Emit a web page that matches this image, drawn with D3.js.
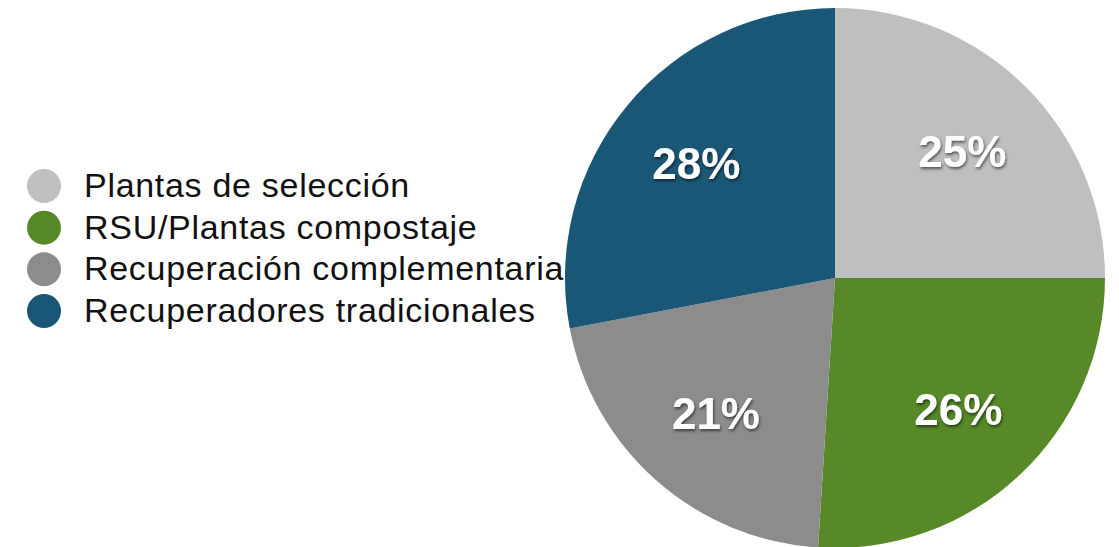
<!DOCTYPE html>
<html>
<head>
<meta charset="utf-8">
<script src="https://cdn.jsdelivr.net/npm/d3@7"></script>
<style>
  body { margin: 0; background: #ffffff; }
  svg { display: block; }
</style>
</head>
<body>
<svg id="pie"></svg>
<script>
// categories and values
var categories = ["Plantas de selección", "RSU/Plantas compostaje",
                  "Recuperación complementaria", "Recuperadores tradicionales"];
var values = [25, 26, 21, 28];
var colors = ["#bfbfbf", "#578928", "#8c8c8c", "#1a5776"];
var labels = ["25%", "26%", "21%", "28%"];

var screen = {width: 1119, height: 547};
var center = {x: 835, y: 278};
var radius = 270;

var svg = d3.select("#pie")
    .attr("width", screen.width)
    .attr("height", screen.height);

// shadow under the white labels
var filter = svg.append("defs").append("filter")
    .attr("id", "shadow")
    .attr("x", "-20%").attr("y", "-20%")
    .attr("width", "140%").attr("height", "140%");
filter.append("feDropShadow")
    .attr("dx", 1)
    .attr("dy", 2)
    .attr("stdDeviation", 1.5)
    .attr("flood-color", "#000")
    .attr("flood-opacity", 0.55);

var slices = categories.map(function(c, i)
{
    return {name: c, value: values[i], color: colors[i], label: labels[i]};
});

var pie = d3.pie()
    .sort(null)
    .value(function(d) { return d.value; });

var arc = d3.arc()
    .innerRadius(0)
    .outerRadius(radius);

var labelArc = d3.arc()
    .innerRadius(180)
    .outerRadius(180);

var g = svg.append("g")
    .attr("transform", "translate(" + center.x + "," + center.y + ")");

//draw the slices
g.selectAll("path")
    .data(pie(slices))
    .enter()
    .append("path")
    .attr("d", arc)
    .attr("fill", function(d) { return d.data.color; });

//percent labels
g.selectAll("text")
    .data(pie(slices))
    .enter()
    .append("text")
    .attr("transform", function(d) { return "translate(" + labelArc.centroid(d) + ")"; })
    .attr("text-anchor", "middle")
    .attr("dy", "0.36em")
    .attr("font-family", "'Liberation Sans', Arial, Helvetica, sans-serif")
    .attr("font-weight", "bold")
    .attr("font-size", 44)
    .attr("fill", "#ffffff")
    .attr("filter", "url(#shadow)")
    .text(function(d) { return d.data.label; });

//legend
var legend = svg.append("g")
    .attr("transform", "translate(0,0)");

var rowY = d3.scalePoint()
    .domain(categories)
    .range([186, 311]);

var rows = legend.selectAll("g")
    .data(slices)
    .enter()
    .append("g")
    .attr("transform", function(d) { return "translate(0," + rowY(d.name) + ")"; });

rows.append("circle")
    .attr("cx", 44)
    .attr("cy", 0)
    .attr("r", 17)
    .attr("fill", function(d) { return d.color; });

rows.append("text")
    .attr("x", 84)
    .attr("y", 11)
    .attr("font-family", "'Liberation Sans', Arial, Helvetica, sans-serif")
    .attr("font-size", 34)
    .attr("letter-spacing", 0.7)
    .attr("fill", "#111111")
    .text(function(d) { return d.name; });
</script>
</body>
</html>
